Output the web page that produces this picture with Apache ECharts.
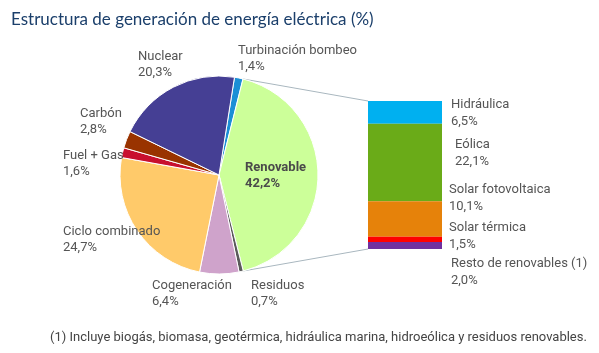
<!DOCTYPE html>
<html lang="es">
<head>
<meta charset="UTF-8">
<title>Estructura de generación de energía eléctrica</title>
<script src="https://cdn.jsdelivr.net/npm/echarts@6/dist/echarts.min.js"></script>
<style>
  html, body { margin: 0; padding: 0; background: #fff; }
  #chart { width: 599px; height: 353px; }
</style>
</head>
<body>
<div id="chart"></div>
<script>
// datos del gráfico circular (orden horario desde arriba)
var pieNames = ['Turbinación bombeo', 'Renovable', 'Residuos', 'Cogeneración', 'Ciclo combinado', 'Fuel + Gas', 'Carbón', 'Nuclear'];
var pieValues = [1.4, 42.2, 0.7, 6.4, 24.7, 1.6, 2.8, 20.3];
var pieColors = ['#1b8fd6', '#ccff99', '#5a5a5a', '#cfa3cb', '#ffca6a', '#c8102e', '#993300', '#453f94'];
// posición de cada etiqueta (esquina sup. izq.)
var pieLabelPos = [[238, 43], [245, 160], [251, 278], [152, 278], [63, 224], [63, 148], [80, 106], [138, 49]];

// desglose renovables
var renNames = ['Hidráulica', 'Eólica', 'Solar fotovoltaica', 'Solar térmica', 'Resto de renovables (1)'];
var renValues = [6.5, 22.1, 10.1, 1.5, 2.0];
var renColors = ['#00b0f0', '#6aab18', '#e6820a', '#ff0000', '#7030a0'];
var renLabelPos = [[451, 96], [455, 136], [449, 181], [449, 219], [451, 255]];

var barLeft = 368, barWidth = 74, barTop = 101, barHeight = 148;

function fmt(v) { return v.toFixed(1).replace('.', ',') + '%'; }

var total = renValues.reduce(function (a, b) { return a + b; }, 0);

var pieData = pieNames.map(function (n, i) {
    var item = { name: n, value: pieValues[i], itemStyle: { color: pieColors[i] } };
    if (n === 'Renovable') {
        item.label = { fontWeight: 'bold', color: '#4a4a4a' };
    }
    return item;
});

var barSeries = renNames.map(function (n, i) {
    return {
        name: n,
        type: 'bar',
        stack: 'ren',
        barWidth: '100%',
        data: [renValues[i]],
        itemStyle: { color: renColors[i] },
        silent: true
    };
});

var texts = renNames.map(function (n, i) {
    return {
        type: 'text',
        left: renLabelPos[i][0],
        top: renLabelPos[i][1],
        style: {
            text: n + '\n' + fmt(renValues[i]),
            font: '13px Roboto',
            fill: '#555',
            lineHeight: 17
        }
    };
});

var footnote = {
    type: 'text',
    left: 50,
    top: 331,
    style: {
        text: '(1) Incluye biogás, biomasa, geotérmica, hidráulica marina, hidroeólica y residuos renovables.',
        font: '13px Roboto',
        fill: '#444'
    }
};

var chart = echarts.init(document.getElementById('chart'), null, { renderer: 'canvas' });

var option = {
    animation: false,
    title: {
        text: 'Estructura de generación de energía eléctrica (%)',
        left: 6,
        top: 6,
        textStyle: { fontFamily: 'Lato', fontSize: 17, fontWeight: 'normal', color: '#1b3f6b' }
    },
    grid: { left: barLeft, top: barTop, width: barWidth, height: barHeight },
    xAxis: { type: 'category', data: ['Renovable'], show: false },
    yAxis: { type: 'value', min: 0, max: total, inverse: true, show: false },
    series: barSeries.concat([{
        type: 'pie',
        center: [219, 175],
        radius: 99,
        startAngle: 81,
        clockwise: true,
        data: pieData,
        itemStyle: { borderColor: '#fff', borderWidth: 1 },
        label: {
            show: true,
            formatter: function (p) { return p.name + '\n' + fmt(p.value); },
            fontFamily: 'Roboto',
            fontSize: 13,
            color: '#555',
            lineHeight: 16,
            overflow: 'none'
        },
        labelLine: { show: false },
        labelLayout: function (p) {
            var pos = pieLabelPos[p.dataIndex];
            return { x: pos[0], y: pos[1], align: 'left', verticalAlign: 'top' };
        }
    }]),
    graphic: texts.concat([footnote])
};

chart.setOption(option);

// líneas que unen la porción renovable con la barra
var pieData2 = chart.getModel().getSeriesByIndex(renNames.length).getData();
var ri = pieNames.indexOf('Renovable');
var lay = pieData2.getItemLayout(ri);
var yTop = chart.convertToPixel({ yAxisIndex: 0 }, 0);
var yBot = chart.convertToPixel({ yAxisIndex: 0 }, total);
var p1 = [lay.cx + lay.r * Math.cos(lay.startAngle), lay.cy + lay.r * Math.sin(lay.startAngle)];
var p2 = [lay.cx + lay.r * Math.cos(lay.endAngle), lay.cy + lay.r * Math.sin(lay.endAngle)];

chart.setOption({
    graphic: texts.concat([
        footnote,
        { type: 'line', z: -1, shape: { x1: p1[0], y1: p1[1], x2: barLeft, y2: yTop }, style: { stroke: '#a9b7bf', lineWidth: 1 } },
        { type: 'line', z: -1, shape: { x1: p2[0], y1: p2[1], x2: barLeft, y2: yBot }, style: { stroke: '#a9b7bf', lineWidth: 1 } }
    ])
});
</script>
</body>
</html>
